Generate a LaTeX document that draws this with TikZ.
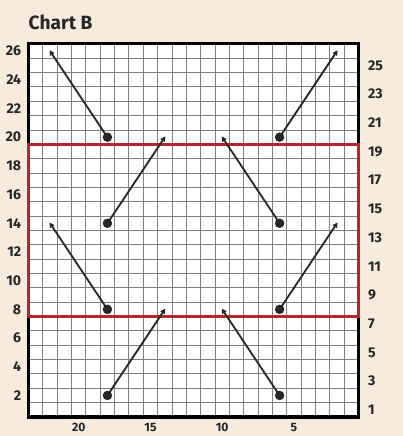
\documentclass[tikz,border=0pt]{standalone}
\usepackage{fontspec}
\setmainfont{Fira Sans}
\usetikzlibrary{arrows.meta}
\definecolor{paper}{HTML}{F6EBDC}
\definecolor{chartred}{HTML}{B3262D}
\definecolor{ink}{HTML}{262626}

\begin{document}
\begin{tikzpicture}[x=0.5cm, y=0.5cm,
  gridline/.style={black!50, line width=0.9pt},
  frame/.style={black, line width=3pt},
  repeatbox/.style={chartred, line width=3pt},
  cable/.style={-{Triangle[length=5pt, width=5pt]}, line width=1.8pt, ink,
    shorten >=-1pt},
  bead/.style={fill=ink},
  numlbl/.style={font=\bfseries\fontsize{14}{14}\selectfont, text=ink, inner sep=0pt},
  title/.style={font=\bfseries\fontsize{19}{19}\selectfont, text=ink, inner sep=0pt},
]
  % Page: cream paper, margins as in the chart
  \fill[paper] (-1.986,-1.324) rectangle (26.098,29.059);
  \useasboundingbox (-1.986,-1.324) rectangle (26.098,29.059);

  % Grid: 23 stitches, 26 rows
  \fill[white] (0,0) rectangle (23,26);
  \draw[gridline, step=0.5cm] (0,0) grid (23,26);
  \draw[frame] (0,0) rectangle (23,26);
  % Repeat: rows 8 to 19
  \draw[repeatbox] (0,7) rectangle (23,19);

  \node[title, anchor=base west] (title) at (0,27.0) {Chart B};

  % Row numbers: even on the left, odd on the right
  \foreach \r in {2,4,...,26}
    \node[numlbl, anchor=east] (row\r) at (-0.5,\r-0.5) {\r};
  \foreach \r in {1,3,...,25}
    \node[numlbl, anchor=west] (row\r) at (23.65,\r-0.5) {\r};
  % Stitch numbers, counted from the right
  \foreach \c in {5,10,15,20}
    \node[numlbl, font=\bfseries\fontsize{12}{12}\selectfont, anchor=north]
      (st\c) at (23.5-\c,-0.42) {\c};

  % Cables: stitch/row of the bead, stitch/row of the tip
  \foreach \sc/\sr/\ec/\er in {18/20/22/26, 6/20/2/26, 18/14/14/20, 6/14/10/20,
      18/8/22/14, 6/8/2/14, 18/2/14/8, 6/2/10/8} {
    \draw[cable] (23.5-\sc,\sr-0.5) -- (23.5-\ec,\er-0.5);
    \fill[bead] (23.5-\sc,\sr-0.5) circle (0.33);
  }
\end{tikzpicture}
\end{document}
